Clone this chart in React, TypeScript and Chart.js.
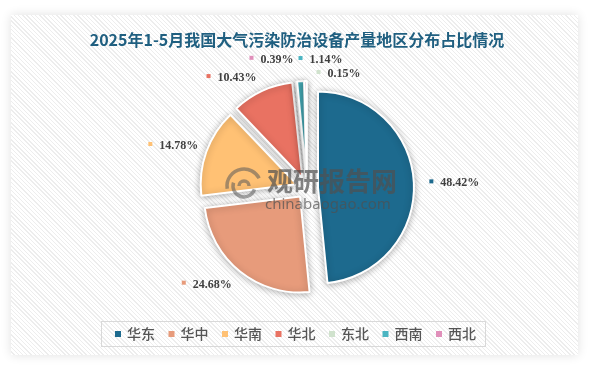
import React, { useEffect, useRef } from 'react';
import { Chart, registerables } from 'chart.js';

Chart.register(...registerables);

const TITLE = '2025年1-5月我国大气污染防治设备产量地区分布占比情况';
const regions = ['华东', '华中', '华南', '华北', '东北', '西南', '西北'];
const shares = [48.42, 24.68, 14.78, 10.43, 0.15, 1.14, 0.39];
const shareLabels = ['48.42%', '24.68%', '14.78%', '10.43%', '0.15%', '1.14%', '0.39%'];
const colors = ['#1d6a8e', '#e79b7b', '#ffc174', '#e97262', '#d0e2cd', '#4bb5c2', '#e08fba'];

// label nudges (styling only)
const labelNudge: [number, number][] = [
  [-1.5, 1.5], [2.4, 0], [8, 0], [1.6, 2.6], [66, 9.4], [43, -4.2], [-12, -4.2],
];
const EXPLODE = 11;
const RADIUS = 96;
const LABEL_R = 124;

const explodePlugin = {
  id: 'explode',
  afterDatasetsUpdate(chart: any) {
    const meta = chart.getDatasetMeta(0);
    meta.data.forEach((arc: any) => {
      const mid = (arc.startAngle + arc.endAngle) / 2;
      arc.x += Math.cos(mid) * EXPLODE;
      arc.y += Math.sin(mid) * EXPLODE;
    });
  },
  beforeDatasetsDraw(chart: any) {
    const c = chart.ctx;
    c.save();
    c.shadowColor = 'rgba(0,0,0,0.3)';
    c.shadowBlur = 7;
    c.shadowOffsetX = 0;
    c.shadowOffsetY = 1;
  },
  afterDatasetsDraw(chart: any) {
    const c: CanvasRenderingContext2D = chart.ctx;
    c.restore();
    const area = chart.chartArea;
    const cx = (area.left + area.right) / 2;
    const cy = (area.top + area.bottom) / 2;

    // watermark
    c.save();
    c.fillStyle = 'rgba(80,80,80,0.7)';
    c.strokeStyle = 'rgba(90,90,90,0.55)';
    c.lineWidth = 3.5;
    c.beginPath();
    c.arc(244, 186, 17, Math.PI * 0.95, Math.PI * 1.85);
    c.stroke();
    c.beginPath();
    c.arc(244, 186, 11, Math.PI * 0.1, Math.PI * 1.1);
    c.stroke();
    c.beginPath();
    c.arc(244, 186, 5, Math.PI * 1.0, Math.PI * 2.0);
    c.stroke();
    c.font = 'bold 26px "Noto Sans CJK SC"';
    c.textBaseline = 'middle';
    c.textAlign = 'left';
    c.fillText('观研报告网', 267, 181);
    c.font = '15px "Noto Sans"';
    c.fillText('chinabaogao.com', 265, 205);
    c.restore();

    // data labels
    const meta = chart.getDatasetMeta(0);
    c.save();
    c.font = 'bold 12px "Liberation Serif"';
    c.textBaseline = 'middle';
    meta.data.forEach((arc: any, i: number) => {
      const mid = (arc.startAngle + arc.endAngle) / 2;
      const ax = cx + Math.cos(mid) * LABEL_R + labelNudge[i][0];
      const ay = cy + Math.sin(mid) * LABEL_R + labelNudge[i][1];
      const text = shareLabels[i];
      const tw = c.measureText(text).width;
      const boxW = 4 + 7 + tw;
      const left = Math.cos(mid) >= 0 ? ax : ax - boxW;
      c.fillStyle = colors[i];
      c.fillRect(left, ay - 4, 4, 4);
      c.fillStyle = '#404040';
      c.textAlign = 'left';
      c.fillText(text, left + 11, ay);
    });
    c.restore();
  },
  afterDraw(chart: any) {
    const c: CanvasRenderingContext2D = chart.ctx;
    c.save();
    // title
    c.font = 'bold 16px "Noto Sans CJK SC"';
    c.fillStyle = '#1f5f80';
    c.textAlign = 'center';
    c.textBaseline = 'middle';
    c.fillText(TITLE, 297, 40);

    // legend
    c.strokeStyle = '#d9d9d9';
    c.lineWidth = 1;
    c.strokeRect(101.5, 321.5, 384, 25);
    c.font = '500 14px "Noto Sans CJK SC"';
    c.textAlign = 'left';
    let x = 115;
    regions.forEach((r, i) => {
      c.fillStyle = colors[i];
      c.fillRect(x, 331, 6, 6);
      c.fillStyle = '#555555';
      c.fillText(r, x + 12, 334);
      x += 12 + c.measureText(r).width + 13.5;
    });
    c.restore();
  },
};

export default function App() {
  const ref = useRef<HTMLCanvasElement>(null);
  useEffect(() => {
    if (!ref.current) return;
    const chart = new Chart(ref.current, {
      type: 'pie',
      data: {
        labels: regions,
        datasets: [
          {
            data: shares,
            backgroundColor: colors,
            borderColor: '#ffffff',
            borderWidth: 2,
          },
        ],
      },
      options: {
        responsive: false,
        animation: false,
        radius: RADIUS,
        layout: { padding: { left: 100, right: 75, top: 70, bottom: 60 } },
        plugins: {
          legend: { display: false },
          title: { display: false },
          tooltip: { enabled: false },
        },
        events: [],
      } as any,
      plugins: [explodePlugin],
    });
    return () => chart.destroy();
  }, []);

  return (
    <div style={{ position: 'fixed', left: 0, top: 0, width: 589, height: 366, background: '#ffffff', overflow: 'hidden' }}>
      <div
        style={{
          position: 'absolute',
          left: 11,
          top: 15,
          width: 567,
          height: 340,
          boxShadow: '0 0 10px rgba(0,0,0,0.12)',
          background: 'repeating-linear-gradient(45deg, #ffffff 0px, #ffffff 2px, #ededed 2px, #ededed 3px)',
        }}
      />
      <canvas ref={ref} width={589} height={366} style={{ position: 'absolute', left: 0, top: 0, width: 589, height: 366 }} />
    </div>
  );
}
